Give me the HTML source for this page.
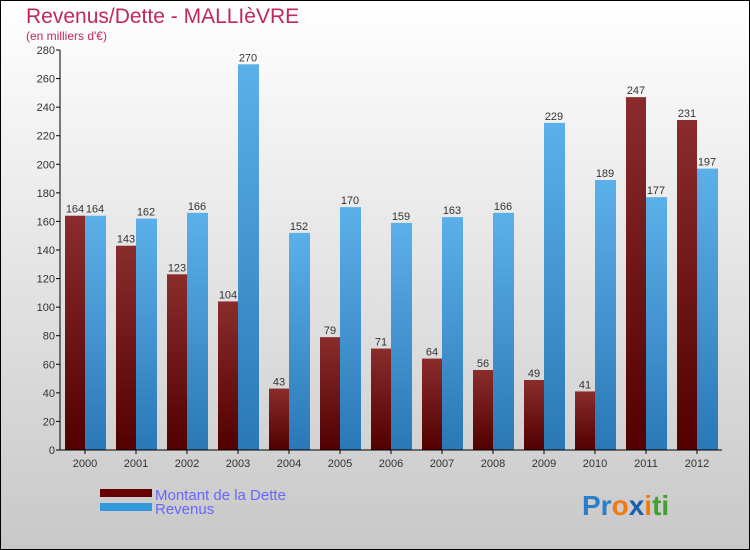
<!DOCTYPE html>
<html><head><meta charset="utf-8"><style>
body{margin:0}
svg{display:block;font-family:"Liberation Sans",sans-serif}
</style></head><body>
<svg width="750" height="550" xmlns="http://www.w3.org/2000/svg">
<defs>
<linearGradient id="bg" x1="0" y1="0" x2="0" y2="1"><stop offset="0" stop-color="#ffffff"/><stop offset="1" stop-color="#c8c8c8"/></linearGradient>
<linearGradient id="gd" x1="0" y1="0" x2="0" y2="1"><stop offset="0" stop-color="#8a2c2c"/><stop offset="1" stop-color="#520000"/></linearGradient>
<linearGradient id="gr" x1="0" y1="0" x2="0" y2="1"><stop offset="0" stop-color="#5cb0ea"/><stop offset="1" stop-color="#2a78b6"/></linearGradient>
</defs>
<rect x="0.5" y="0.5" width="749" height="549" fill="url(#bg)" stroke="#000"/>
<text x="26" y="23" font-size="21" fill="#c0285a">Revenus/Dette - MALLIèVRE</text>
<text x="26" y="40" font-size="12" fill="#c0285a">(en milliers d'€)</text>
<g id="plot"></g>
<rect x="100" y="489" width="52" height="8" fill="#660000"/>
<text x="155" y="500" font-size="15" fill="#6666ff">Montant de la Dette</text>
<rect x="100" y="503" width="52" height="8" fill="#3399dd"/>
<text x="155" y="514" font-size="15" fill="#6666ff">Revenus</text>
<text x="582" y="515" font-size="28" font-weight="bold"><tspan fill="#2a7fc8">Pr</tspan><tspan fill="#f07a10">o</tspan><tspan fill="#1a5fb0">x</tspan><tspan fill="#f07a10">i</tspan><tspan fill="#40a030">ti</tspan></text>
</svg>
<script>
const years=["2000","2001","2002","2003","2004","2005","2006","2007","2008","2009","2010","2011","2012"];
const dette=[164,143,123,104,43,79,71,64,56,49,41,247,231];
const revenus=[164,162,166,270,152,170,159,163,166,229,189,177,197];
const yTicks=[0,20,40,60,80,100,120,140,160,180,200,220,240,260,280];
const NS="http://www.w3.org/2000/svg";
const g=document.getElementById('plot');
const y0=450,yTop=50,yMax=280,x0=60,x1=722;
const ys=v=>y0-(v/yMax)*(y0-yTop);
const xs=i=>85+i*51;
function mk(t,a){const e=document.createElementNS(NS,t);for(const k in a)e.setAttribute(k,a[k]);g.appendChild(e);return e;}
yTicks.forEach(v=>{
 const l=mk('line',{x1:x0-4,x2:x0,y1:ys(v),y2:ys(v),stroke:'#000'});
 
 
 const t=mk('text',{x:x0-5,y:ys(v)+4,'font-size':11,fill:'#333','text-anchor':'end'});t.textContent=v;
 
 
});
years.forEach((yr,i)=>{
 const cx=xs(i);
 const bd=mk('rect',{x:cx-20,y:ys(dette[i]),width:20,height:y0-ys(dette[i]),fill:'url(#gd)'});
 
 
 const br=mk('rect',{x:cx,y:ys(revenus[i]),width:21,height:y0-ys(revenus[i]),fill:'url(#gr)'});
 
 
 const td=mk('text',{x:cx-10,y:ys(dette[i])-3,'font-size':11,fill:'#333','text-anchor':'middle'});td.textContent=dette[i];
 
 
 const tr=mk('text',{x:cx+10,y:ys(revenus[i])-3,'font-size':11,fill:'#333','text-anchor':'middle'});tr.textContent=revenus[i];
 
 
 const tl=mk('line',{x1:cx,x2:cx,y1:y0,y2:y0+4,stroke:'#000'});
 
 
 const tx=mk('text',{x:cx,y:y0+17,'font-size':11,fill:'#333','text-anchor':'middle'});tx.textContent=yr;
 
 
});
const ya=mk('line',{x1:x0,x2:x0,y1:yTop,y2:y0,stroke:'#000'});


const xa=mk('line',{x1:x0,x2:x1,y1:y0,y2:y0,stroke:'#000'});


</script>
</body></html>
